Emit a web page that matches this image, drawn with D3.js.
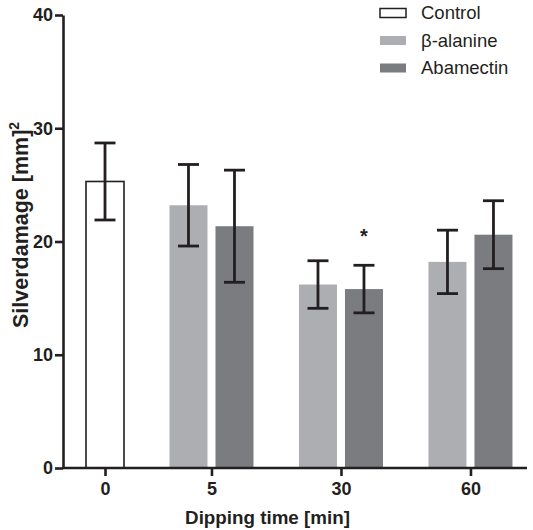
<!DOCTYPE html>
<html>
<head>
<meta charset="utf-8">
<script src="https://cdn.jsdelivr.net/npm/d3@7"></script>
<style>
  body { margin: 0; background: #fff; }
  svg text { font-family: "Liberation Sans", Arial, sans-serif; }
</style>
</head>
<body>
<svg id="svg" width="533" height="530"></svg>
<script>
// data
const categories = ["0", "5", "30", "60"];
const seriesNames = ["Control", "\u03b2-alanine", "Abamectin"];
const controlMean = [25.3];
const controlErr = [3.4];
const betaMean = [23.2, 16.2, 18.2];
const betaErr = [3.6, 2.1, 2.8];
const abaMean = [21.35, 15.8, 20.6];
const abaErr = [4.95, 2.1, 3.0];
const yTicks = [0, 10, 20, 30, 40];
const starCategory = "30"; // significance mark on Abamectin

const colors = { "Control": "#ffffff", "\u03b2-alanine": "#adaeb2", "Abamectin": "#7b7c80" };
const ink = "#231f20";

// build groups: time 0 only has the control, the others beta + abamectin
let groups = [{ cat: categories[0], bars: [{ s: seriesNames[0], v: controlMean[0], e: controlErr[0] }] }];
for (let i = 1; i < categories.length; i++) {
    groups.push({ cat: categories[i], bars: [
        { s: seriesNames[1], v: betaMean[i - 1], e: betaErr[i - 1] },
        { s: seriesNames[2], v: abaMean[i - 1], e: abaErr[i - 1] }
    ]});
}

// lay slots out in "units": 1 unit per bar, gap between groups
const gapUnits = 0.815;
let u = 0;
let bars = [];
groups.forEach(g => {
    let start = u;
    g.bars.forEach(b => { b.u = u; b.cat = g.cat; bars.push(b); u += 1; });
    g.center = (start + u) / 2;
    u += gapUnits;
});
const totalUnits = u - gapUnits;

const svg = d3.select("#svg");
const mLeft = 63, mTop = 15, mBottom = 468, mRight = 527;

const x = d3.scaleLinear().domain([0, totalUnits]).range([82, 82 + 46 * totalUnits]);
const y = d3.scaleLinear().domain([0, 40]).range([mBottom, mTop]);
const pad = 0.087;

// bars
svg.append("g").selectAll("rect").data(bars).join("rect")
    .attr("x", d => x(d.u + pad))
    .attr("y", d => y(d.v))
    .attr("width", d => x(d.u + 1 - pad) - x(d.u + pad))
    .attr("height", d => y(0) - y(d.v))
    .attr("fill", d => colors[d.s])
    .attr("stroke", d => d.s == "Control" ? ink : "none")
    .attr("stroke-width", 1.6);

// error bars
const eb = svg.append("g").attr("stroke", ink).attr("stroke-width", 2.8);
bars.forEach(d => {
    let cx = x(d.u + 0.5);
    eb.append("line").attr("x1", cx).attr("x2", cx).attr("y1", y(d.v + d.e)).attr("y2", y(d.v - d.e));
    eb.append("line").attr("x1", cx - 10.5).attr("x2", cx + 10.5).attr("y1", y(d.v + d.e)).attr("y2", y(d.v + d.e));
    eb.append("line").attr("x1", cx - 10.5).attr("x2", cx + 10.5).attr("y1", y(d.v - d.e)).attr("y2", y(d.v - d.e));
});

// significance star
let starBar = bars.find(b => b.cat == starCategory && b.s == "Abamectin");
svg.append("text")
    .attr("x", x(starBar.u + 0.5))
    .attr("y", y(starBar.v + starBar.e) - 22)
    .attr("text-anchor", "middle")
    .style("font-size", "20px").style("font-weight", 700).style("fill", ink)
    .text("*");

// y axis
const yAxis = svg.append("g").attr("transform", "translate(" + mLeft + ",0)")
    .call(d3.axisLeft(y).tickValues(yTicks).tickSize(8).tickSizeOuter(0).tickPadding(2));
// x axis
const xAxis = svg.append("g").attr("transform", "translate(0," + mBottom + ")")
    .call(d3.axisBottom(x).tickValues(groups.map(g => g.center))
        .tickFormat((v, i) => groups[i].cat).tickSize(8).tickSizeOuter(0).tickPadding(6));
xAxis.select(".domain").attr("d", "M" + mLeft + ",0H" + mRight);

[yAxis, xAxis].forEach(a => {
    a.selectAll("path, line").attr("stroke", ink).attr("stroke-width", 2.6);
    a.selectAll("text").style("font-size", "18px").style("font-weight", 700).style("fill", ink);
});

// axis titles
svg.append("text")
    .attr("transform", "translate(28,328) rotate(-90)")
    .attr("text-anchor", "start")
    .style("font-size", "21.5px").style("font-weight", 700).style("fill", ink)
    .text("Silverdamage [mm]")
    .append("tspan").attr("dy", -9).style("font-size", "14px").text("2");

svg.append("text")
    .attr("x", 267.5).attr("y", 524)
    .attr("text-anchor", "middle")
    .style("font-size", "18.8px").style("font-weight", 700).style("fill", ink)
    .text("Dipping time [min]");

// legend
const lg = svg.append("g");
seriesNames.forEach((s, i) => {
    let ly = 13 + i * 27.5;
    lg.append("rect").attr("x", 380).attr("y", ly - 4.5).attr("width", 26).attr("height", 9)
        .attr("fill", colors[s]).attr("stroke", s == "Control" ? ink : "none").attr("stroke-width", 1.5);
    lg.append("text").attr("x", 421).attr("y", ly + 6)
        .style("font-size", "18.5px").style("fill", ink).text(s);
});
</script>
</body>
</html>
